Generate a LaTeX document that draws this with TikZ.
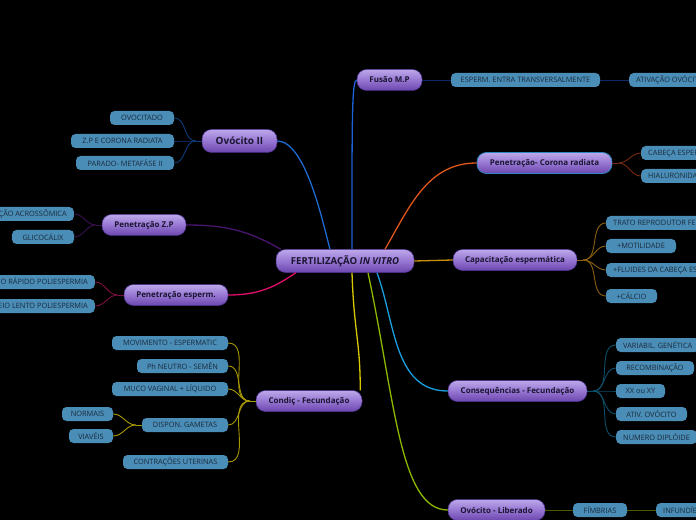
\documentclass[tikz,border=0pt]{standalone}
\usepackage{fontspec}
\setmainfont{Open Sans}
\usepackage{xcolor}
\usepackage{tikz}

\definecolor{topictop}{HTML}{BDA8EA}
\definecolor{topicmid}{HTML}{9676D2}
\definecolor{topicbot}{HTML}{6C46AE}
\definecolor{topicline}{HTML}{4E3290}
\definecolor{coronaline}{HTML}{2E86C1}
\definecolor{ink}{HTML}{1A1530}
\definecolor{leaffill}{HTML}{4A8DB7}
\definecolor{leafink}{HTML}{1B2A3A}
\definecolor{ovii}{HTML}{1E6AD2}
\definecolor{oviidk}{HTML}{0D3B7A}
\definecolor{fusao}{HTML}{1D62D8}
\definecolor{fusaodk}{HTML}{0A2A6A}
\definecolor{corona}{HTML}{E0561A}
\definecolor{coronadk}{HTML}{7A2A10}
\definecolor{capac}{HTML}{C8900A}
\definecolor{capacdk}{HTML}{8A6010}
\definecolor{conseq}{HTML}{1AA0E0}
\definecolor{conseqdk}{HTML}{0B4F6A}
\definecolor{ovlib}{HTML}{8CB800}
\definecolor{ovlibdk}{HTML}{4A5A00}
\definecolor{condic}{HTML}{D8C800}
\definecolor{condicdk}{HTML}{A89800}
\definecolor{penesp}{HTML}{E0106A}
\definecolor{penespdk}{HTML}{7A1040}
\definecolor{penzp}{HTML}{4A1570}
\definecolor{penzpdk}{HTML}{3A1050}

\begin{document}
\begin{tikzpicture}[x=1bp,y=-1bp,
    topic/.style={shape=rectangle, rounded corners=9.5bp, draw=topicline, line width=0.5bp,
      top color=topictop, bottom color=topicbot, middle color=topicmid,
      minimum height=21bp, inner sep=0pt, text=ink, font=\fontsize{8}{10}\selectfont\bfseries},
    leaf/.style={shape=rectangle, rounded corners=4.5bp, fill=leaffill, minimum height=14bp,
      inner sep=0pt, inner xsep=7bp, text=leafink, font=\fontsize{7.4}{9}\selectfont},
    branch/.style={line width=1.3bp},
    twig/.style={line width=0.9bp}]
    \useasboundingbox (0,0) rectangle (696,520);
    \fill[black] (0,0) rectangle (696,520);

    % main topics
    \node[topic, minimum width=138bp, minimum height=23bp, font=\fontsize{9.6}{11}\selectfont\bfseries] (central) at (345,261) {FERTILIZAÇÃO \textit{IN VITRO}};
    \node[topic, minimum width=75bp, minimum height=23bp, font=\fontsize{10}{12}\selectfont\bfseries] (ovII) at (239.5,141) {Ovócito II};
    \node[topic, minimum width=84bp] (penZP) at (144,225) {Penetração Z.P};
    \node[topic, minimum width=104bp] (penEsp) at (176,295) {Penetração esperm.};
    \node[topic, minimum width=106bp] (condic) at (309,401) {Condiç - Fecundação};
    \node[topic, minimum width=65bp] (fusao) at (389.5,80) {Fusão M.P};
    \node[topic, minimum width=135bp, draw=coronaline, line width=0.8bp] (corona) at (544.5,163) {Penetração- Corona radiata};
    \node[topic, minimum width=124bp] (capac) at (515,260) {Capacitação espermática};
    \node[topic, minimum width=139bp] (conseq) at (517.5,391) {Consequências - Fecundação};
    \node[topic, minimum width=97bp] (ovLib) at (496.5,510) {Ovócito - Liberado};

    % left leaves
    \node[leaf, minimum width=64bp] (ovocitado) at (142,118) {OVOCITADO};
    \node[leaf, minimum width=103bp] (zpcorona) at (122.5,141) {Z.P E CORONA RADIATA};
    \node[leaf, minimum width=98bp] (parado) at (125,163) {PARADO- METAFÁSE II};
    \node[leaf, anchor=east] (reacao) at (74,214) {REAÇÃO ACROSSÔMICA};
    \node[leaf, minimum width=62bp] (glicocalix) at (43,237) {GLICOCÁLIX};
    \node[leaf, anchor=east] (bloqrapido) at (95,282) {BLOQUEIO RÁPIDO POLIESPERMIA};
    \node[leaf, anchor=east] (bloqlento) at (95,306) {BLOQUEIO LENTO POLIESPERMIA};
    \node[leaf, minimum width=116bp] (movimento) at (170,343) {MOVIMENTO - ESPERMATIC};
    \node[leaf, minimum width=91bp] (phneutro) at (182.5,366) {Ph NEUTRO - SEMÊN};
    \node[leaf, minimum width=116bp] (muco) at (170,389) {MUCO VAGINAL + LÍQUIDO};
    \node[leaf, minimum width=86bp] (dispon) at (185,425) {DISPON. GAMETAS};
    \node[leaf, minimum width=105bp] (contracoes) at (175.5,462) {CONTRAÇÕES UTERINAS};
    \node[leaf, minimum width=51bp] (normais) at (87.5,414) {NORMAIS};
    \node[leaf, minimum width=44bp] (viaveis) at (91,436) {VIAVÉIS};

    % right leaves
    \node[leaf, minimum width=149bp] (esperm) at (525.5,80) {ESPERM. ENTRA TRANSVERSALMENTE};
    \node[leaf, anchor=west] (ativacao) at (629,80) {ATIVAÇÃO OVÓCITO};
    \node[leaf, anchor=west] (cabeca) at (641,153) {CABEÇA ESPERMÁTICA};
    \node[leaf, anchor=west] (hialuron) at (641,176) {HIALURONIDASE};
    \node[leaf, anchor=west] (trato) at (606,223) {TRATO REPRODUTOR FEMININO};
    \node[leaf, minimum width=70bp] (motilidade) at (641,246) {+MOTILIDADE};
    \node[leaf, anchor=west] (fluides) at (606,270) {+FLUIDES DA CABEÇA ESPERMÁTICA};
    \node[leaf, minimum width=51bp] (calcio) at (631.5,296) {+CÁLCIO};
    \node[leaf, anchor=west] (variabil) at (616,345) {VARIABIL. GENÉTICA};
    \node[leaf, minimum width=78bp] (recomb) at (655,368) {RECOMBINAÇÃO};
    \node[leaf, minimum width=49bp] (xxxy) at (640.5,391) {XX ou XY};
    \node[leaf, minimum width=71bp] (ativovocito) at (651.5,414) {ATIV. OVÓCITO};
    \node[leaf, anchor=west] (diploide) at (616,437) {NUMERO DIPLÓIDE};
    \node[leaf, minimum width=54bp] (fimbrias) at (600,510) {FÍMBRIAS};
    \node[leaf, anchor=west] (infund) at (656,510) {INFUNDÍBULO};

    % branches from the centre
    \draw[branch, ovii] ([xshift=-15bp]central.north) to[out=105,in=0,looseness=0.6] (ovII.east);
    \draw[branch, fusao] ([xshift=7bp]central.north) .. controls +(0,-130) and +(-5,0) .. (fusao.west);
    \draw[branch, corona] ([xshift=40bp]central.north) to[out=60,in=180] (corona.west);
    \draw[branch, capac] (central.east) -- (capac.west);
    \draw[branch, conseq] ([xshift=32bp]central.south) to[out=-70,in=180] (conseq.west);
    \draw[branch, ovlib] ([xshift=23bp]central.south) .. controls +(27,127) and +(-48,0) .. (ovLib.west);
    \draw[branch, condic] ([xshift=7bp]central.south) .. controls +(2,60) and +(0,-50) .. ([xshift=-2bp]condic.north east);
    \draw[branch, penzp] (penZP.east) to[out=0,in=150] ([xshift=5bp]central.north west);
    \draw[branch, penesp] (penEsp.east) to[out=0,in=-145] ([xshift=20bp]central.south west);

    % hubs
    \coordinate (ovII-hub) at ([xshift=-6bp]ovII.west);
    \coordinate (penZP-hub) at ([xshift=-6bp]penZP.west);
    \coordinate (penEsp-hub) at ([xshift=-6bp]penEsp.west);
    \coordinate (condic-hub) at ([xshift=-6bp]condic.west);
    \coordinate (dispon-hub) at ([xshift=-6bp]dispon.west);
    \coordinate (corona-hub) at ([xshift=6bp]corona.east);
    \coordinate (capac-hub) at ([xshift=6bp]capac.east);
    \coordinate (conseq-hub) at ([xshift=6bp]conseq.east);

    \draw[twig, oviidk] (ovII.west) -- (ovII-hub);
    \foreach \n in {ovocitado,zpcorona,parado}
      \draw[twig, oviidk] (ovII-hub) to[out=180,in=0] (\n.east);
    \draw[twig, penzpdk] (penZP.west) -- (penZP-hub);
    \foreach \n in {reacao,glicocalix}
      \draw[twig, penzpdk] (penZP-hub) to[out=180,in=0] (\n.east);
    \draw[twig, penespdk] (penEsp.west) -- (penEsp-hub);
    \foreach \n in {bloqrapido,bloqlento}
      \draw[twig, penespdk] (penEsp-hub) to[out=180,in=0] (\n.east);
    \draw[twig, condicdk] (condic.west) -- (condic-hub);
    \foreach \n in {movimento,phneutro,muco,dispon,contracoes}
      \draw[twig, condicdk] (condic-hub) to[out=180,in=0] (\n.east);
    \draw[twig, condicdk] (dispon.west) -- (dispon-hub);
    \foreach \n in {normais,viaveis}
      \draw[twig, condicdk] (dispon-hub) to[out=180,in=0] (\n.east);

    \draw[twig, coronadk] (corona.east) -- (corona-hub);
    \foreach \n in {cabeca,hialuron}
      \draw[twig, coronadk] (corona-hub) to[out=0,in=180] (\n.west);
    \draw[twig, capacdk] (capac.east) -- (capac-hub);
    \foreach \n in {trato,motilidade,fluides,calcio}
      \draw[twig, capacdk] (capac-hub) to[out=0,in=180] (\n.west);
    \draw[twig, conseqdk] (conseq.east) -- (conseq-hub);
    \foreach \n in {variabil,recomb,xxxy,ativovocito,diploide}
      \draw[twig, conseqdk] (conseq-hub) to[out=0,in=180] (\n.west);

    \draw[twig, fusaodk] (fusao.east) -- (esperm.west);
    \draw[twig, fusaodk] (esperm.east) -- (ativacao.west);
    \draw[twig, ovlibdk] (ovLib.east) -- (fimbrias.west);
    \draw[twig, ovlibdk] (fimbrias.east) -- (infund.west);
  \end{tikzpicture}
\end{document}
